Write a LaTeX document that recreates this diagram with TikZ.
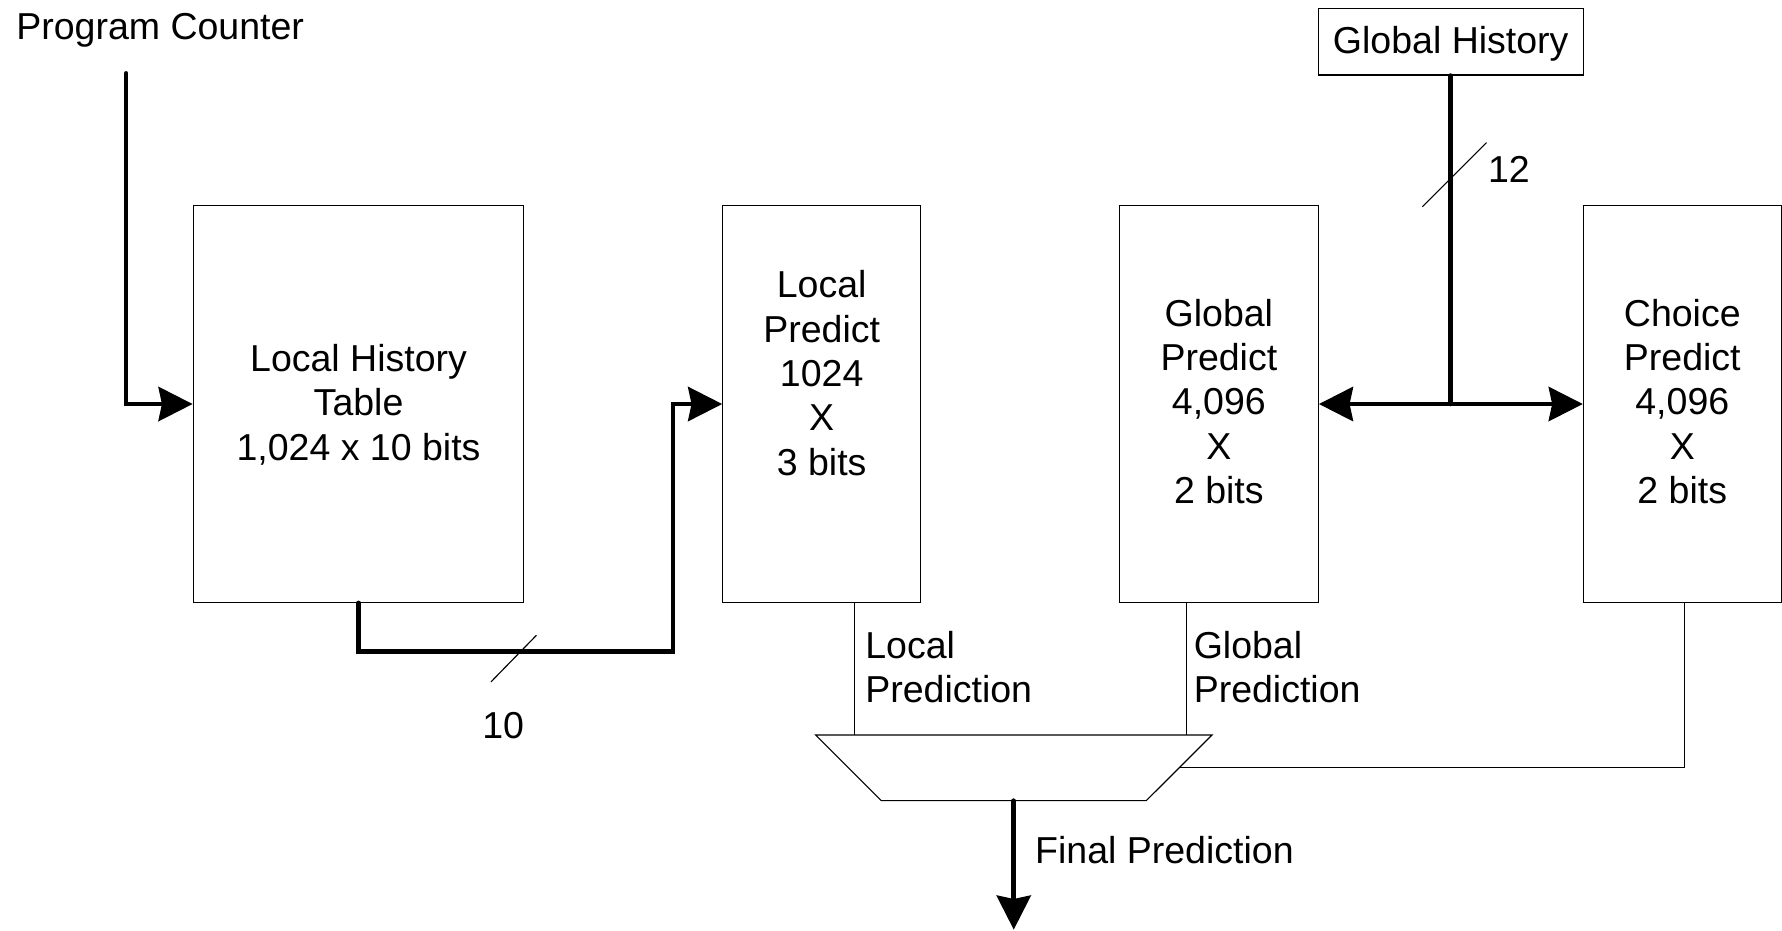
\documentclass[tikz,border=0pt]{standalone}
\usepackage{fontspec}
\setmainfont{Liberation Sans}
\usetikzlibrary{arrows.meta,calc}
\newcommand\mystack[2]{\begin{tabular}[t]{@{}#1@{}}#2\end{tabular}}
\begin{document}
\begin{tikzpicture}[x=0.5pt,y=-0.5pt,
  thinline/.style={line width=0.5pt},
  thickline/.style={line width=2pt, line cap=round, line join=miter},
  arr/.style={-{Stealth[length=15pt,width=15pt,inset=1.5pt]}},
  dblarr/.style={{Stealth[length=15pt,width=15pt,inset=1.5pt]}-{Stealth[length=15pt,width=15pt,inset=1.5pt]}},
  box/.style={draw, thinline, inner sep=0pt, minimum height=174.5pt},
  lbl/.style={inner sep=0pt, font=\fontsize{16.5pt}{19.5pt}\selectfont},
]
\useasboundingbox (0,0) rectangle (1568,819);

% boxes
\node[box, minimum width=145.5pt] (lht) at (315.5,355.5) {};
\node[box, minimum width=87pt] (lp) at (723,355.5) {};
\node[box, minimum width=87.5pt] (gp) at (1072.5,355.5) {};
\node[box, minimum width=87pt] (cp) at (1480.25,355.5) {};
\node[draw, thinline, inner sep=0pt, minimum width=116.5pt, minimum height=29.25pt] (gh) at (1276.5,36.75) {};
\node[lbl, anchor=base] (ghtxt) at (1276.5,47) {Global History};

% box texts
\node[lbl, anchor=base west] (pc) at (14,34.6) {Program Counter};
\node[lbl, anchor=base] (lhttxt) at (315.5,327) {\mystack{c}{Local History\\Table\\1,024 x 10 bits}};
\node[lbl, anchor=base] (lptxt) at (723,262) {\mystack{c}{Local\\Predict\\1024\\X\\3 bits}};
\node[lbl, anchor=base] (gptxt) at (1072.5,287) {\mystack{c}{Global\\Predict\\4,096\\X\\2 bits}};
\node[lbl, anchor=base] (cptxt) at (1480.25,287) {\mystack{c}{Choice\\Predict\\4,096\\X\\2 bits}};

% program counter -> local history table
\coordinate (pcstart) at (111,64.5);
\draw[thickline, arr] (pcstart) |- (lht.west);

% local history table -> local predict
\coordinate (turn) at (592,573.4);
\draw[thickline, arr] (lht.south) |- (turn) |- (lp.west);
\coordinate (s10a) at (432,600);
\coordinate (s10b) at (472,559);
\draw[thinline] (s10a) -- (s10b);
\node[lbl, anchor=base west] (n10) at (424,650) {10};

% global history -> global / choice predict
\coordinate (junc) at (1276.5,355.5);
\draw[thickline] (gh.south) -- (junc);
\draw[thickline, dblarr] (gp.east) -- (cp.west);
\coordinate (s12a) at (1251.6,181.9);
\coordinate (s12b) at (1308,125.5);
\draw[thinline] (s12a) -- (s12b);
\node[lbl, anchor=base west] (n12) at (1309,161) {12};

% multiplexer
\coordinate (mtl) at (717.7,646.7);
\coordinate (mtr) at (1066.5,646.7);
\coordinate (mbr) at (1008.6,704.5);
\coordinate (mbl) at (775.5,704.5);
\draw[thinline] (mtl) -- (mtr) -- (mbr) -- (mbl) -- cycle;

% inputs to mux
\coordinate (lin) at (752,646.7);
\coordinate (gin) at (1043.8,646.7);
\coordinate (cin) at (1482.5,530);
\draw[thinline] (lin |- lp.south) -- (lin);
\draw[thinline] (gin |- gp.south) -- (gin);
\coordinate (csel) at ($(mtr)!0.5!(mbr)$);
\draw[thinline] (cin |- cp.south) |- (csel);

\node[lbl, anchor=base west] (lpl) at (761,579) {\mystack{l}{Local\\Prediction}};
\node[lbl, anchor=base west] (gpl) at (1050,579) {\mystack{l}{Global\\Prediction}};

% final output
\coordinate (mout) at (892,704.5);
\coordinate (fend) at (892,818);
\draw[thickline, arr] (mout) -- (fend);
\node[lbl, anchor=base west] (fpl) at (910.5,759.5) {Final Prediction};
\end{tikzpicture}
\end{document}
